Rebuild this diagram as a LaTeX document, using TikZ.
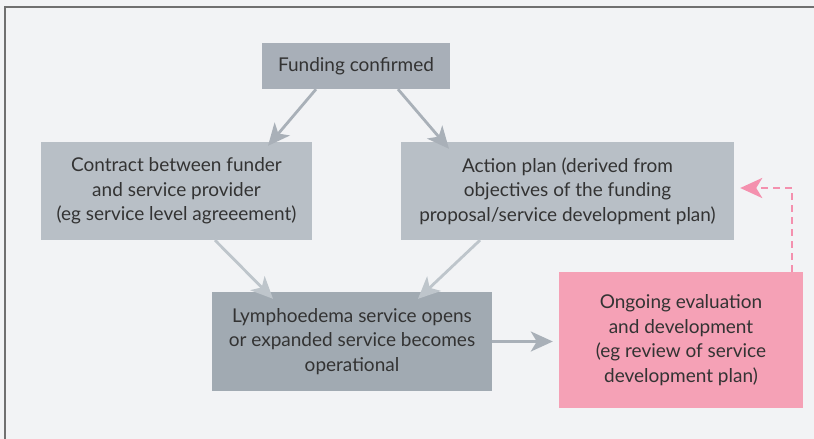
\documentclass[tikz,border=0pt]{standalone}
\usepackage{fontspec}
\setmainfont{Lato}
\usetikzlibrary{arrows.meta,positioning}
\definecolor{bgpanel}{HTML}{F2F3F5}
\definecolor{boxdark}{HTML}{A8AFB8}
\definecolor{boxlight}{HTML}{B8BFC6}
\definecolor{boxmid}{HTML}{A1AAB2}
\definecolor{boxpink}{HTML}{F5A1B6}
\definecolor{arrowgray}{HTML}{A9B0B8}
\definecolor{arrowlight}{HTML}{BEC5CB}
\definecolor{dashpink}{HTML}{F490AE}
\definecolor{textdark}{HTML}{333333}
\definecolor{framegray}{HTML}{707070}

\begin{document}
\begin{tikzpicture}[x=1pt,y=-1pt,
    stagebox/.style={inner sep=0pt, align=center, text=textdark,
        font=\fontsize{19}{24.5}\selectfont},
    flow/.style={draw=arrowgray, line width=2.8pt, -{Stealth[length=22pt,width=20pt,inset=6pt]}},
    flowlight/.style={flow, draw=arrowlight}]
    % panel
    \fill[bgpanel] (0,0) rectangle (814,439);
    \useasboundingbox (0,0) rectangle (814,439);
    \draw[framegray, line width=2pt] (5,439) -- (5,7) -- (814,7);

    \node[stagebox, fill=boxdark, minimum width=188pt, minimum height=46pt] (fund) at (356,66) {Funding confirmed};
    \node[stagebox, fill=boxlight, minimum width=271pt, minimum height=98pt] (contract) at (176.5,191)
        {Contract between funder\\and service provider\\(eg service level agreeement)};
    \node[stagebox, fill=boxlight, minimum width=333pt, minimum height=98pt] (plan) at (567.5,191)
        {Action plan (derived from\\objectives of the funding\\proposal/service development plan)};
    \node[stagebox, fill=boxmid, minimum width=280pt, minimum height=99pt] (opens) at (352,341.5)
        {Lymphoedema service opens\\or expanded service becomes\\operational};
    \node[stagebox, fill=boxpink, minimum width=244pt, minimum height=136pt] (review) at (681,340)
        {Ongoing evaluation\\and development\\(eg review of service\\development plan)};

    % connectors
    \draw[flow] ([xshift=-40pt]fund.south) -- ([xshift=91.5pt,yshift=-4pt]contract.north);
    \draw[flow] ([xshift=42pt]fund.south) -- ([xshift=-118.5pt,yshift=-7pt]plan.north);
    \draw[flowlight] ([xshift=38.5pt]contract.south) -- ([xshift=-79pt,yshift=-7pt]opens.north);
    \draw[flowlight] ([xshift=-87.5pt]plan.south) -- ([xshift=66pt,yshift=-7pt]opens.north);
    \draw[flow] (opens.east) -- ([xshift=-6pt]opens.east -| review.west);
    \draw[draw=dashpink, line width=2.8pt, dash pattern=on 7pt off 5pt,
        -{Stealth[length=22pt,width=20pt,inset=6pt,fill=dashpink]}]
        ([xshift=111pt]review.north) |- ([xshift=6pt,yshift=3pt]plan.east);
\end{tikzpicture}
\end{document}
